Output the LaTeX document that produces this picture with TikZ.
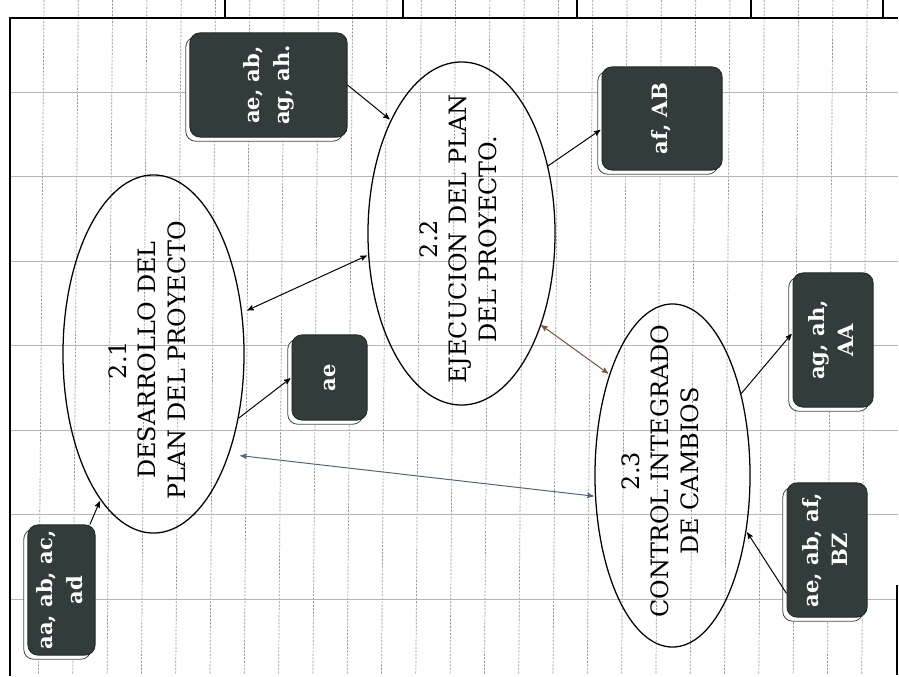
\documentclass[tikz,border=0pt]{standalone}
\usepackage{fontspec}
\setmainfont{DejaVu Serif}
\usetikzlibrary{arrows,shapes.geometric,shadows}

\definecolor{boxfill}{RGB}{50,60,58}
\definecolor{gridgray}{RGB}{150,150,150}
\definecolor{lineblue}{RGB}{80,100,125}
\definecolor{linebrown}{RGB}{125,80,60}

\newcommand{\vtext}[1]{\rotatebox{90}{\begin{tabular}{@{}c@{}}#1\end{tabular}}}

\tikzset{
  proc/.style={ellipse,draw,line width=0.9pt,inner sep=0pt},
  proctext/.style={inner sep=0pt,font=\fontsize{17}{21}\selectfont},
  datos/.style={rectangle,rounded corners=7pt,fill=boxfill,draw=boxfill!70!black,
    text=white,inner sep=0pt,font=\fontsize{15}{21}\selectfont\bfseries,
    copy shadow={shadow xshift=-3pt,shadow yshift=-3pt,fill=white,draw=gray!60!black,line width=0.6pt}},
  gridv/.style={gridgray,dash pattern=on 1.5pt off 1pt,line width=0.5pt},
  gridh/.style={gridgray!70,line width=0.6pt},
  marco/.style={line width=1.4pt}
}

\begin{document}
\begin{tikzpicture}[x=0.025cm,y=-0.025cm,>=stealth',shorten >=1pt,line width=0.7pt]

\useasboundingbox[fill=white] (0,0) rectangle (899,676);

% rayado de la hoja
\foreach \k in {0,...,24}
  \draw[gridv] ({44+34.3*\k},0) -- ({38.5+34.3*\k},676);
\foreach \k in {0,...,6}
  \draw[gridh] (10,{92+84.5*\k}) -- (899,{92+84.5*\k});

% marco
\draw[marco] (10,676) -- (10,18) -- (899,18);
\draw[marco] (897,585) -- (897,676);
\foreach \xt in {225,403,577,751,883}
  \draw[line width=1pt] (\xt,0) -- (\xt,18);

% procesos
\node[proc,minimum width=4.525cm,minimum height=8.95cm] (e21) at (153.5,354) {};
\node[proc,minimum width=4.675cm,minimum height=8.575cm] (e22) at (461.5,233.5) {};
\node[proc,minimum width=3.875cm,minimum height=8.575cm] (e23) at (672.5,475.5) {};

\node[proctext] (t21) at (150,360) {\vtext{2.1\\DESARROLLO DEL\\PLAN DEL PROYECTO}};
\node[proctext] (t22) at (461,239) {\vtext{2.2\\EJECUCION DEL PLAN\\DEL PROYECTO.}};
\node[proctext] (t23) at (663,471) {\vtext{2.3\\CONTROL INTEGRADO\\DE CAMBIOS}};

% entradas y salidas
\node[datos,minimum width=1.675cm,minimum height=3.25cm] (B1) at (61.5,590) {\vtext{aa, ab, ac,\\ad}};
\node[datos,minimum width=3.925cm,minimum height=2.6cm] (B2) at (268.5,85) {\vtext{ae, ab,\\ag, ah.}};
\node[datos,minimum width=3.0cm,minimum height=2.575cm] (B3) at (662,118.5) {\vtext{af, AB}};
\node[datos,minimum width=1.875cm,minimum height=2.125cm] (B4) at (329.5,377.5) {\vtext{ae}};
\node[datos,minimum width=2.0cm,minimum height=3.35cm] (B5) at (833,340) {\vtext{ag, ah,\\AA}};
\node[datos,minimum width=2.0cm,minimum height=3.35cm] (B6) at (827,550) {\vtext{ae, ab, af,\\BZ}};

\path[->] ([xshift=-4pt]B1.north east) edge (e21.250)
          (B2.east) edge (e22.122)
          (e22.38) edge (B3.190)
          (e21.323) edge (B4.west)
          (e23.50) edge (B5.170)
          (B6.227) edge (e23.323);

\path[<->] (e21.25) edge[shorten <=4pt] (e22.193)
           (e21.307) edge[lineblue,shorten <=8pt] (e23.195)
           (e22.311) edge[linebrown] (e23.122);

\end{tikzpicture}
\end{document}
